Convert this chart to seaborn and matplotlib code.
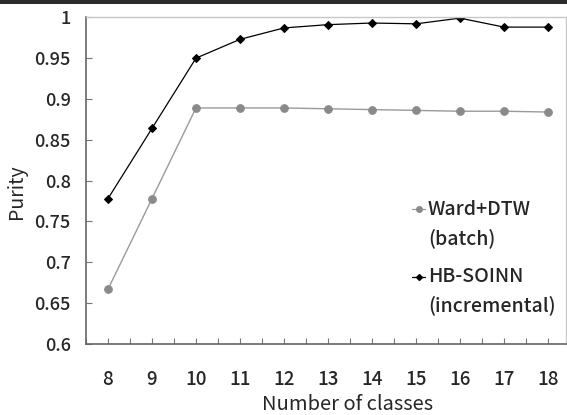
import matplotlib
matplotlib.use("Agg")
import matplotlib.pyplot as plt
from matplotlib.lines import Line2D
from matplotlib.patches import Rectangle
from matplotlib.ticker import MultipleLocator
import seaborn as sns
import pandas as pd

classes = [8, 9, 10, 11, 12, 13, 14, 15, 16, 17, 18]
ward_dtw = [0.667, 0.778, 0.889, 0.889, 0.889, 0.888, 0.887, 0.886, 0.885, 0.885, 0.884]
hb_soinn = [0.778, 0.864, 0.950, 0.973, 0.987, 0.991, 0.993, 0.992, 0.999, 0.988, 0.988]
yticks = [0.6, 0.65, 0.7, 0.75, 0.8, 0.85, 0.9, 0.95, 1.0]
ytick_labels = ["0.6", "0.65", "0.7", "0.75", "0.8", "0.85", "0.9", "0.95", "1"]

sns.set_style("white")
plt.rcParams['font.family'] = ['Noto Sans CJK JP', 'DejaVu Sans']
plt.rcParams['font.weight'] = 'medium'

W, H = 567, 415
fig = plt.figure(figsize=(W / 100, H / 100), dpi=100)
ax = fig.add_axes([86 / W, 1 - 344 / H, (566 - 86) / W, (344 - 17.3) / H])

df = pd.DataFrame({"classes": classes, "Ward+DTW": ward_dtw, "HB-SOINN": hb_soinn})

sns.lineplot(data=df, x="classes", y="Ward+DTW", ax=ax, color="#9a9a9a", lw=1.0,
             marker="o", markersize=5.5, markerfacecolor="#8a8a8a", markeredgecolor="#8a8a8a")
sns.lineplot(data=df, x="classes", y="HB-SOINN", ax=ax, color="#000000", lw=0.9,
             marker="D", markersize=4, markerfacecolor="#000000", markeredgecolor="#000000")

ax.set_xlim(7.5, 18.41)
ax.set_ylim(0.6, 1.0)
ax.set_xticks(classes)
ax.set_xticklabels([str(c) for c in classes])
ax.xaxis.set_minor_locator(MultipleLocator(0.5))
ax.set_yticks(yticks)
ax.set_yticklabels(ytick_labels)

ax.tick_params(axis="x", which="both", direction="in", length=4.5, width=0.8,
               color="#777777", pad=19, labelsize=13.5, bottom=True)
ax.tick_params(axis="y", which="major", direction="in", length=4.5, width=0.8,
               color="#777777", pad=11, labelsize=13, left=True)
ax.tick_params(axis="x", which="minor", direction="in", length=4.5, width=0.8,
               color="#777777", bottom=True)

for s in ["left", "bottom"]:
    ax.spines[s].set_color("#666666")
    ax.spines[s].set_linewidth(1.2)
for s in ["top", "right"]:
    ax.spines[s].set_color("#c8c8c8")
    ax.spines[s].set_linewidth(1.0)

ax.set_xlabel("Number of classes", fontsize=14.5)
ax.xaxis.set_label_coords(0.544, -0.152)
ax.set_ylabel("Purity", fontsize=14)
ax.yaxis.set_label_coords(-0.123, 0.465)

# legend (manual, handle aligned to first text line)
def px(x, y):
    return x / W, 1 - y / H

for (y1, y2, name, sub, col, lc, mk, ms) in [
        (209, 238, "Ward+DTW", "(batch)", "#8a8a8a", "#9a9a9a", "o", 4),
        (277, 305, "HB-SOINN", "(incremental)", "#000000", "#000000", "D", 3)]:
    x0, yy = px(412, y1)
    x1, _ = px(425, y1)
    fig.add_artist(Line2D([x0, x1], [yy, yy], transform=fig.transFigure, color=lc, lw=0.9))
    fig.add_artist(Line2D([(x0 + x1) / 2], [yy], transform=fig.transFigure, color=col,
                          marker=mk, markersize=ms, markerfacecolor=col, markeredgecolor=col))
    tx, ty = px(428, y1)
    fig.text(tx, ty, name, fontsize=14, va="center", ha="left")
    tx, ty = px(428, y2)
    fig.text(tx, ty, sub, fontsize=14, va="center", ha="left")

# top dark bar
fig.add_artist(Rectangle((0, 1 - 4.5 / H), 1, 4.5 / H, transform=fig.transFigure,
                         color="#2b2b2b", lw=0))

fig.savefig("out.png", dpi=100)
